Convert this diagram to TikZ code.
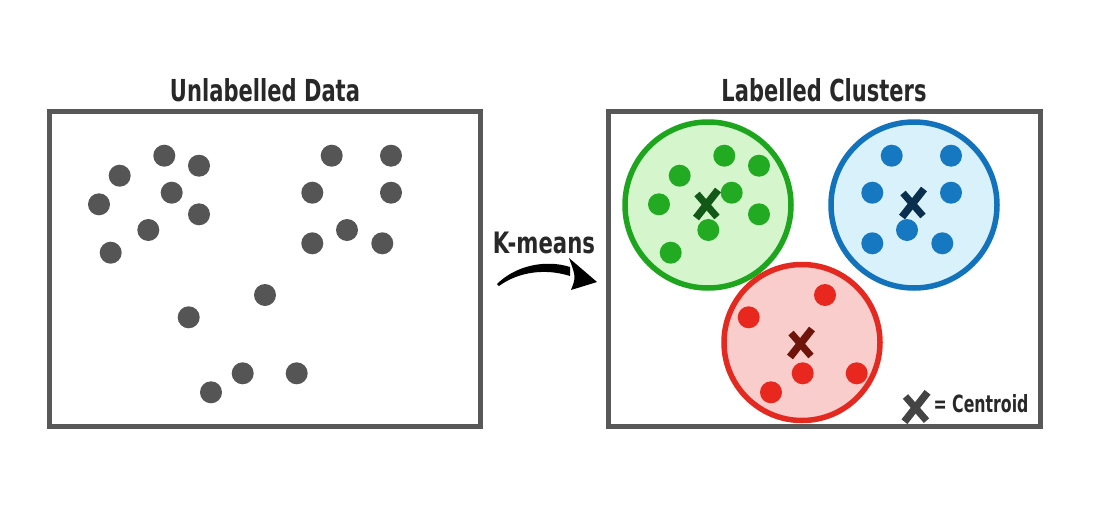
\documentclass[tikz,border=0pt]{standalone}
\usepackage{fontspec}
\setmainfont{DejaVu Sans}
\usepackage{graphicx}
\definecolor{boxgray}{RGB}{88,88,88}
\definecolor{dotgray}{RGB}{85,85,85}
\definecolor{txt}{RGB}{40,40,40}
\definecolor{gdot}{RGB}{34,170,34}
\definecolor{gline}{RGB}{30,165,30}
\definecolor{gfill}{RGB}{213,246,204}
\definecolor{gx}{RGB}{18,88,22}
\definecolor{bdot}{RGB}{22,120,192}
\definecolor{bline}{RGB}{18,115,188}
\definecolor{bfill}{RGB}{216,241,250}
\definecolor{bx}{RGB}{10,46,78}
\definecolor{rdot}{RGB}{232,40,30}
\definecolor{rline}{RGB}{228,42,32}
\definecolor{rfill}{RGB}{249,205,203}
\definecolor{rx}{RGB}{110,20,10}
\definecolor{lx}{RGB}{68,68,68}
\tikzset{
  panel/.style={draw=boxgray, line width=5pt, fill=white},
  pt/.style={circle, fill=#1, inner sep=0pt, minimum size=22pt},
  clus/.style n args={2}{circle, draw=#1, fill=#2, line width=5.5pt, inner sep=0pt},
  title/.style={inner sep=0pt, text=txt},
  cx/.pic={
    \draw[line width=7.5pt, line cap=butt, pic actions] (11,-14) -- (-11,14);
    \draw[line width=7pt, line cap=butt, pic actions] (-10,-10) -- (10,13);
  }
}
\begin{document}
\begin{tikzpicture}[x=1pt,y=-1pt]
\useasboundingbox (0,0) rectangle (1104,517);
\fill[white] (0,0) rectangle (1104,517);

% titles
\node[title] (t1) at (265,90) {\resizebox{190pt}{23pt}{\bfseries Unlabelled Data}};
\node[title] (t2) at (824,90) {\resizebox{205pt}{23pt}{\bfseries Labelled Clusters}};

% panels
\draw[panel] (49.5,111.7) rectangle (480,426);
\draw[panel] (608.5,111.7) rectangle (1040,426);

% unlabelled points
\foreach \x/\y [count=\i] in {164.3/155.7, 199/165.7, 119.7/175.7, 171.7/192.7, 99/204.3, 199/214.3, 148.3/230, 110.7/252.7,
  331.7/155.7, 391/155.7, 312.3/192.7, 391/192.7, 347/230, 312.3/243.3, 382.3/243.3,
  265/295, 188.7/317.3, 242.7/373.3, 296.7/373.3, 211/392.3}
  \node[pt=dotgray] (u\i) at (\x,\y) {};

% clusters
\node[clus={gline}{gfill}, minimum size=166pt] (cg) at (708,205) {};
\node[clus={bline}{bfill}, minimum size=166pt] (cb) at (914,205) {};
\node[clus={rline}{rfill}, minimum size=156pt] (cr) at (802,342.5) {};

\foreach \x/\y [count=\i] in {724.3/155.7, 759/165.7, 679.7/175.7, 731.7/192.7, 659/204.3, 759/214.3, 708.3/230, 670.7/252.7}
  \node[pt=gdot] (g\i) at (\x,\y) {};
\foreach \x/\y [count=\i] in {891.7/155.7, 951/155.7, 872.3/192.7, 951/192.7, 907/230, 872.3/243.3, 942.3/243.3}
  \node[pt=bdot] (b\i) at (\x,\y) {};
\foreach \x/\y [count=\i] in {825/295, 748.7/317.3, 802.7/373.3, 856.7/373.3, 771/392.3}
  \node[pt=rdot] (r\i) at (\x,\y) {};

% centroids
\pic[draw=gx] at (707,204) {cx};
\pic[draw=bx] at (913,203) {cx};
\pic[draw=rx] at (801,343) {cx};

% legend
\pic[draw=lx, scale=1.05] at (916,407) {cx};
\node[title] (leg) at (981,404) {\resizebox{95pt}{18pt}{\bfseries = Centroid}};

% K-means arrow
\node[title] (km) at (544,242.5) {\resizebox{102pt}{21.5pt}{\bfseries K-means}};
\fill[black] (497,284) .. controls (515,266) and (545,259) .. (570,267)
  -- (570,276) .. controls (545,268) and (518,272) .. (499,286) -- cycle;
\fill[black] (569,258) -- (597,282) -- (571,290) .. controls (576,277) .. (569,258) -- cycle;
\end{tikzpicture}
\end{document}
